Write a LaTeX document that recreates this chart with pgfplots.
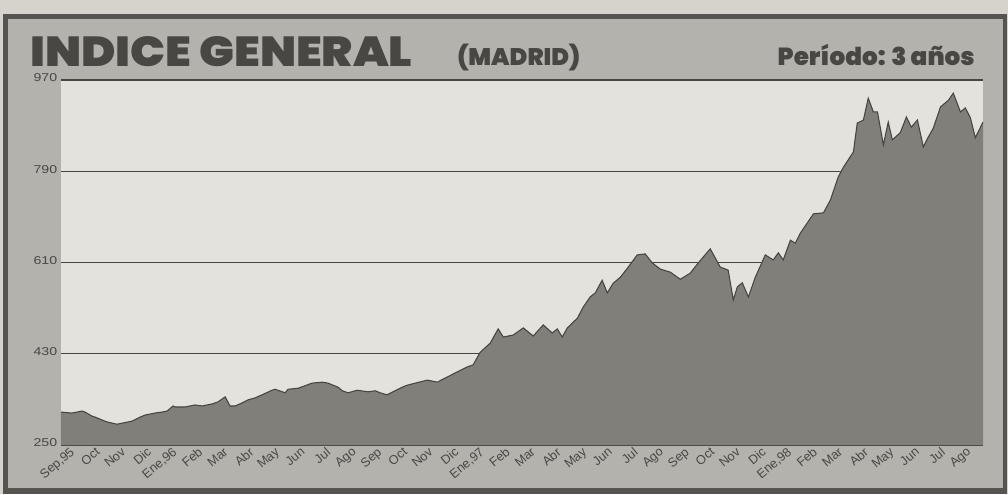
\documentclass[border=0pt]{standalone}
\usepackage{fontspec}
\setmainfont{Liberation Sans}
\newfontfamily\heavy{Poppins Black}
\usepackage{pgfplots}
\usepackage{pgfplotstable}
\pgfplotsset{compat=1.18}
\definecolor{paper}{RGB}{214,211,204}
\definecolor{framedark}{RGB}{85,84,80}
\definecolor{panel}{RGB}{180,178,172}
\definecolor{plotbg}{RGB}{228,226,220}
\definecolor{fillgray}{RGB}{128,127,122}
\definecolor{linegray}{RGB}{70,69,66}
\definecolor{txt}{RGB}{72,71,68}
\pgfplotstableread{
m v
0.00 315
0.43 313
0.82 317
0.94 315
1.21 307
1.33 305
1.72 297
1.84 295
2.19 291
2.38 293
2.77 297
3.09 305
3.28 309
3.67 313
3.95 315
4.14 317
4.38 327
4.45 325
4.84 325
5.23 329
5.51 327
5.90 331
6.13 335
6.41 345
6.60 327
6.80 327
7.07 333
7.30 339
7.58 343
7.85 349
8.24 358
8.36 360
8.75 353
8.87 360
9.26 362
9.80 372
10.20 374
10.43 372
10.82 364
10.98 357
11.21 353
11.56 358
11.99 355
12.27 357
12.46 353
12.73 349
13.32 364
13.52 368
14.30 378
14.69 374
15.31 390
15.86 404
16.09 408
16.37 433
16.76 451
17.07 479
17.27 463
17.66 467
18.05 481
18.44 465
18.83 487
19.18 471
19.38 479
19.57 463
19.77 481
20.16 500
20.39 522
20.66 542
20.86 550
21.13 575
21.33 550
21.56 569
21.84 581
22.15 601
22.50 625
22.81 627
23.09 609
23.40 597
23.79 591
24.18 577
24.57 589
24.88 609
25.35 637
25.74 601
26.05 595
26.25 536
26.41 562
26.60 570
26.84 542
27.11 581
27.50 625
27.81 615
28.01 629
28.20 615
28.48 654
28.67 648
28.87 668
29.38 706
29.77 708
30.04 733
30.35 779
30.55 798
30.94 828
31.09 885
31.33 891
31.52 934
31.72 907
31.88 907
32.11 842
32.30 887
32.46 852
32.77 866
33.01 897
33.20 877
33.44 891
33.67 838
33.87 858
34.06 875
34.34 917
34.65 930
34.84 944
35.12 907
35.31 915
35.51 895
35.70 856
36.00 887
}\ibex
\begin{document}
\begin{tikzpicture}[x=1pt,y=1pt]
\fill[paper] (0,0) rectangle (756,370.5);
\fill[framedark] (2.25,0) rectangle (755.25,360);
\fill[panel] (6,4.5) rectangle (752.25,356.25);
\node[anchor=base west,inner sep=0,text=txt] at (22.5,320.25) {\resizebox{286.5pt}{22.5pt}{\heavy INDICE GENERAL}};
\node[anchor=base west,inner sep=0,text=txt] at (342.75,321) {\resizebox{92.25pt}{!}{\heavy (MADRID)}};
\node[anchor=base east,inner sep=0,text=txt] at (731.25,321) {\resizebox{147.75pt}{!}{\heavy Período: 3 años}};
\begin{axis}[
  at={(45.75pt,36.75pt)}, anchor=south west,
  scale only axis, width=691.5pt, height=273.75pt,
  xmin=0, xmax=36, ymin=250, ymax=970,
  axis background/.style={fill=plotbg},
  axis line style={draw=none},
  ytick={250,430,610,790,970},
  yticklabels={250,430,610,790,970},
  ymajorgrids, grid style={linegray, line width=0.9pt},
  major tick length=0pt,
  xtick={0,...,35},
  xticklabels={{Sep,95},Oct,Nov,Dic,{Ene,96},Feb,Mar,Abr,May,Jun,Jul,Ago,Sep,Oct,Nov,Dic,{Ene,97},Feb,Mar,Abr,May,Jun,Jul,Ago,Sep,Oct,Nov,Dic,{Ene,98},Feb,Mar,Abr,May,Jun,Jul,Ago},
  xticklabel style={font=\fontsize{9.5}{10}\selectfont, text=txt, rotate=40, anchor=north east, xshift=7.5pt, yshift=-1.5pt},
  yticklabel style={font=\fontsize{8.5}{9}\selectfont, text=txt, anchor=east, xshift=-2pt, yshift=1.5pt, xscale=1.25, inner sep=0.5pt},
  clip=true,
]
\addplot[fill=fillgray, draw=none] table[x=m,y=v] {\ibex} \closedcycle;
\addplot[draw=linegray, line width=0.8pt] table[x=m,y=v] {\ibex};
\end{axis}
\pgfresetboundingbox
\useasboundingbox (0,0) rectangle (756,370.5);
\end{tikzpicture}
\end{document}
